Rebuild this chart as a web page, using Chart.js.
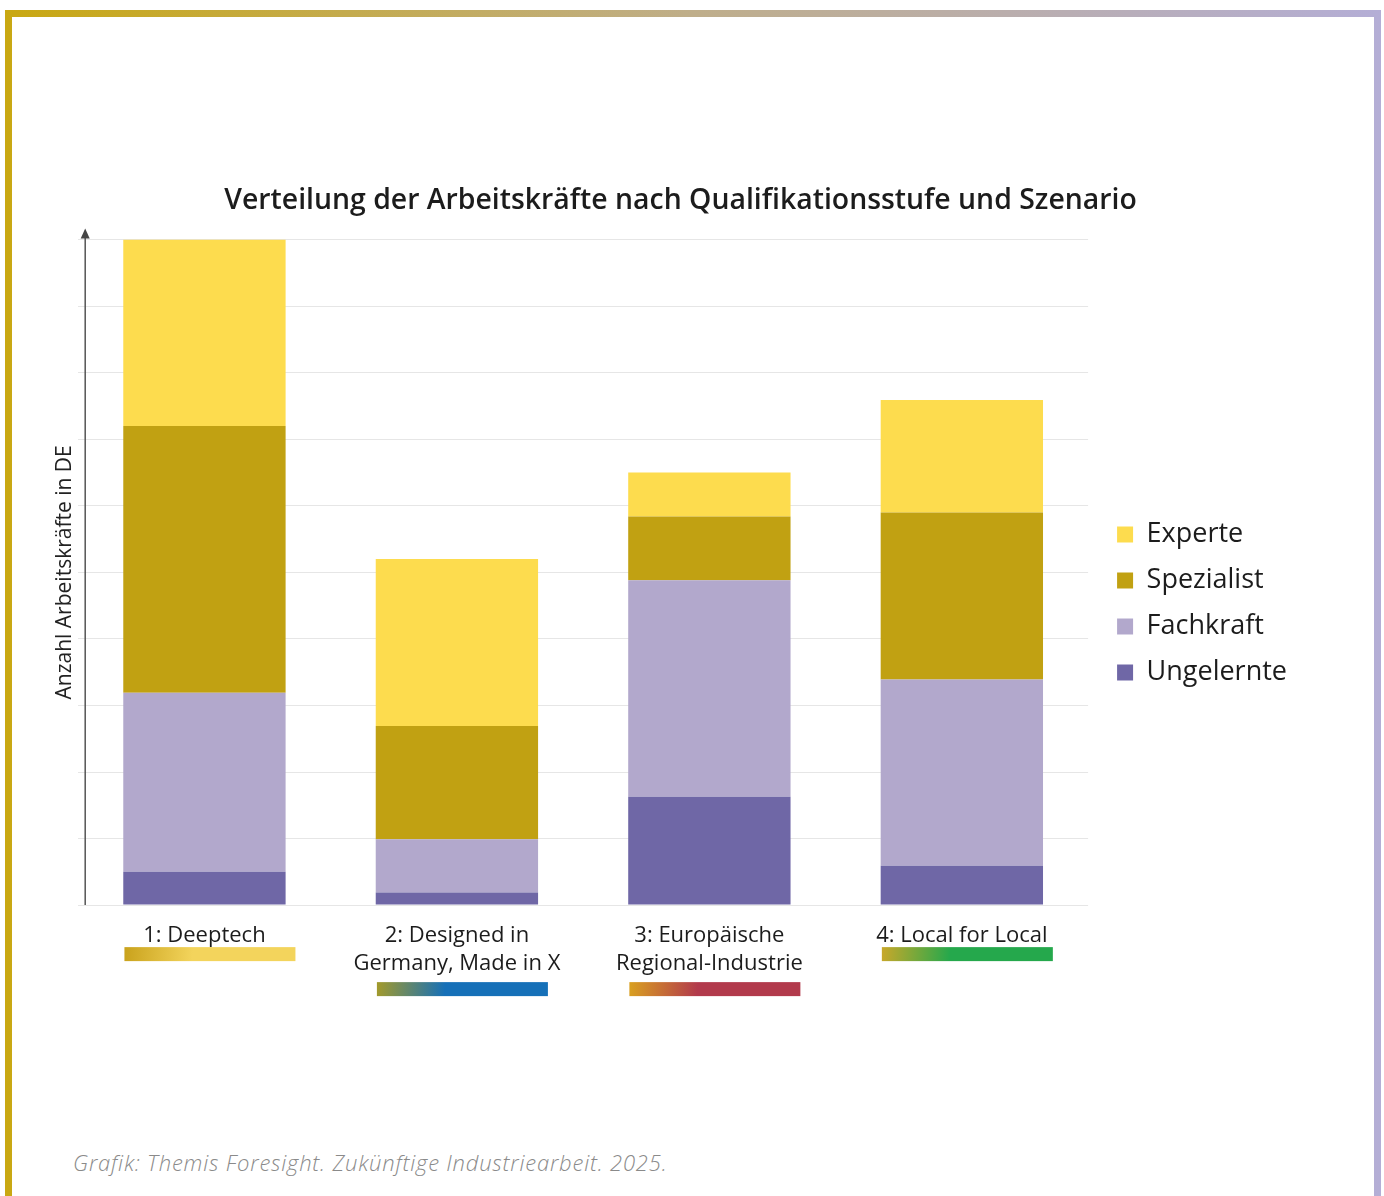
<!DOCTYPE html>
<html lang="de">
<head>
<meta charset="utf-8">
<title>Verteilung der Arbeitskräfte</title>
<script src="https://cdn.jsdelivr.net/npm/chart.js@4.4.1/dist/chart.umd.min.js"></script>
<style>
    html, body { margin: 0; padding: 0; background: #fff; }
    body { width: 1384px; height: 1196px; position: relative; overflow: hidden; }
    .frame {
        position: absolute; left: 5px; top: 10px; width: 1376px; height: 1200px;
        background: linear-gradient(90deg, #c9a812 0%, #bfae8a 50%, #b4aed6 100%);
    }
    .frame-inner {
        position: absolute; left: 7px; top: 7px; right: 7px; bottom: 0;
        background: #fff;
    }
    #chartWrap { position: absolute; left: 0; top: 0; width: 1384px; height: 1018px; }
    .quelle {
        position: absolute; left: 73px; top: 1147px;
        font-family: "Open Sans", sans-serif; font-style: italic; font-weight: 300;
        font-size: 22px; letter-spacing: 0.8px; color: #8a8a8a;
    }
</style>
</head>
<body>
<div class="frame"><div class="frame-inner"></div></div>
<div id="chartWrap"><canvas id="arbeitChart"></canvas></div>
<div class="quelle">Grafik: Themis Foresight. Zukünftige Industriearbeit. 2025.</div>

<script>
const szenarien = [
    '1: Deeptech',
    ['2: Designed in', 'Germany, Made in X'],
    ['3: Europäische', 'Regional-Industrie'],
    '4: Local for Local'
];
const ungelernte = [0.5, 0.19, 1.63, 0.59];
const fachkraft = [2.69, 0.8, 3.25, 2.8];
const spezialist = [4.01, 1.7, 0.96, 2.51];
const experte = [2.8, 2.51, 0.66, 1.69];
// Farbbalken unter den Szenario-Namen
const szenarioFarben = [
    ['#c9a21c', '#f3d45c'],
    ['#a39a2a', '#1670b8'],
    ['#d9a020', '#b23a4c'],
    ['#c9a82a', '#25a84c']
];

document.addEventListener('DOMContentLoaded', function () {
    const canvas = document.getElementById('arbeitChart');

    const achsePfeil = {
        id: 'achsePfeil',
        afterLayout(chart) {
            // Legende etwas vom Diagramm abrücken, Titel mittig über Seite
            const l = chart.legend;
            l.left += 10; l.right += 10;
            l.top += 21; l.bottom += 21;
            const t = chart.titleBlock;
            t.left += 11; t.right += 11;
        },
        afterDraw(chart) {
            const ctx = chart.ctx;
            const area = chart.chartArea;
            const x = area.left + 7;
            ctx.save();
            ctx.strokeStyle = '#555';
            ctx.fillStyle = '#444';
            ctx.lineWidth = 1.5;
            ctx.beginPath();
            ctx.moveTo(x, area.bottom);
            ctx.lineTo(x, area.top - 4);
            ctx.stroke();
            ctx.beginPath();
            ctx.moveTo(x, area.top - 11);
            ctx.lineTo(x - 4.5, area.top - 1);
            ctx.lineTo(x + 4.5, area.top - 1);
            ctx.closePath();
            ctx.fill();

            const xScale = chart.scales.x;
            szenarien.forEach((label, i) => {
                const mitte = xScale.getPixelForValue(i);
                const zeilen = Array.isArray(label) ? label.length : 1;
                const y = area.bottom + (zeilen === 1 ? 42 : 77);
                const links = mitte - 80;
                const grad = ctx.createLinearGradient(links, y, links + 171, y + 14);
                grad.addColorStop(0, szenarioFarben[i][0]);
                grad.addColorStop(0.4, szenarioFarben[i][1]);
                grad.addColorStop(1, szenarioFarben[i][1]);
                ctx.fillStyle = grad;
                ctx.fillRect(links, y, 171, 14);
            });
            ctx.restore();
        }
    };

    new Chart(canvas, {
        type: 'bar',
        data: {
            labels: szenarien,
            datasets: [
                { label: 'Ungelernte', data: ungelernte, backgroundColor: '#6f67a6' },
                { label: 'Fachkraft', data: fachkraft, backgroundColor: '#b2a8cc' },
                { label: 'Spezialist', data: spezialist, backgroundColor: '#c1a112' },
                { label: 'Experte', data: experte, backgroundColor: '#fddc4e' }
            ]
        },
        options: {
            responsive: true,
            maintainAspectRatio: false,
            animation: false,
            layout: {
                padding: { top: 170, left: 52, right: 97, bottom: 23 }
            },
            datasets: {
                bar: { barPercentage: 0.643, categoryPercentage: 1 }
            },
            plugins: {
                title: {
                    display: true,
                    text: 'Verteilung der Arbeitskräfte nach Qualifikationsstufe und Szenario',
                    color: '#1c1c1c',
                    font: { family: 'Open Sans', size: 28.4, weight: '600' },
                    padding: { top: 14, bottom: 21.5 }
                },
                legend: {
                    position: 'right',
                    reverse: true,
                    labels: {
                        boxWidth: 16,
                        boxHeight: 16,
                        padding: 19,
                        color: '#1c1c1c',
                        font: { family: 'Open Sans', size: 27 }
                    }
                },
                tooltip: { enabled: false }
            },
            scales: {
                x: {
                    stacked: true,
                    grid: { display: false, drawTicks: false },
                    border: { display: false },
                    ticks: {
                        padding: 17,
                        color: '#1c1c1c',
                        font: { family: 'Open Sans', size: 22, weight: '500', lineHeight: 1.27 }
                    }
                },
                y: {
                    stacked: true,
                    min: 0,
                    max: 10,
                    border: { display: false },
                    grid: { color: '#e6e6e6', drawTicks: false },
                    ticks: { display: false, stepSize: 1 },
                    title: {
                        display: true,
                        text: 'Anzahl Arbeitskräfte in DE',
                        color: '#222',
                        font: { family: 'Open Sans', size: 21 },
                        padding: { top: 0, bottom: 1 }
                    }
                }
            }
        },
        plugins: [achsePfeil]
    });
});
</script>
</body>
</html>
